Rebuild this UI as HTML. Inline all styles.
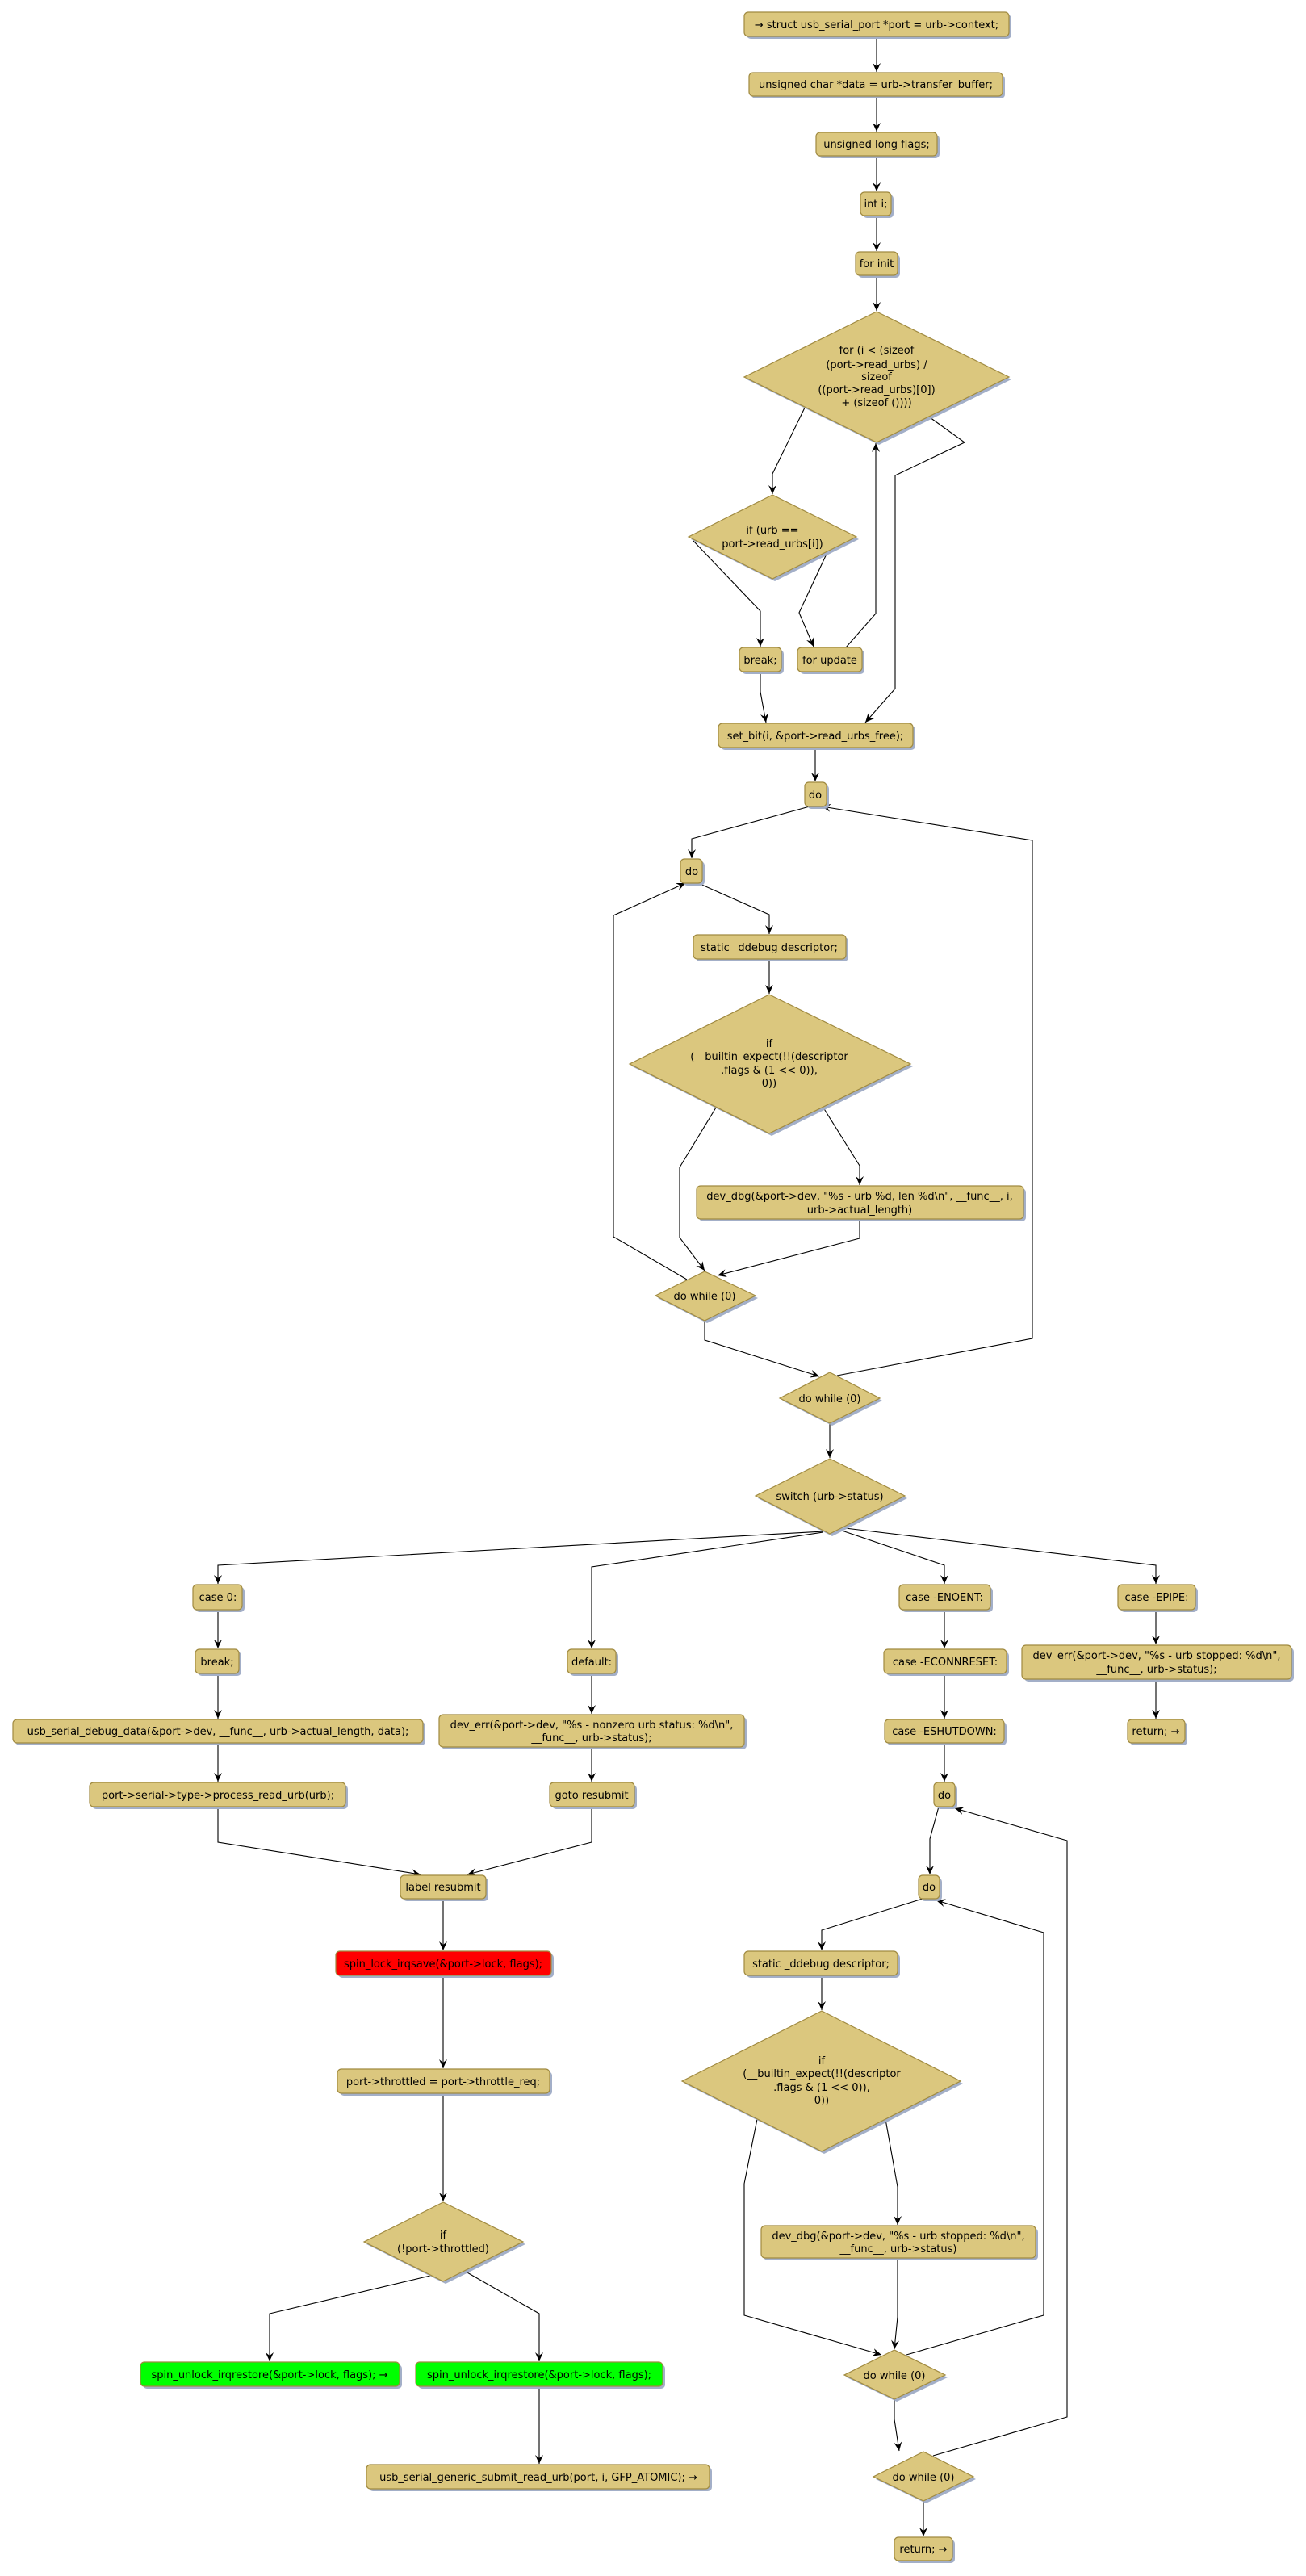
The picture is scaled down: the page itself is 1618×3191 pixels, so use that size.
<!DOCTYPE html>
<html><head><meta charset="utf-8"><style>
html,body{margin:0;padding:0;background:#fff}
svg{display:block}
text{font-family:"DejaVu Sans","Liberation Sans",sans-serif;font-size:13px;fill:#000;text-anchor:middle}
.n{fill:#dbc77e;stroke:#a08a40;stroke-width:1.2}
.s{fill:#a3afc8}
.e{fill:none;stroke:#000;stroke-width:1.1}
</style></head><body>
<svg width="1618" height="3191" viewBox="0 0 1618 3191" xmlns="http://www.w3.org/2000/svg">
<defs>
<marker id="a" markerUnits="userSpaceOnUse" markerWidth="12" markerHeight="12" refX="11" refY="5" orient="auto">
<path d="M0,0 L11,5 L0,10 L4,5 Z" fill="#000"/></marker>
</defs>

<!-- edges -->
<g class="e" marker-end="url(#a)">
<polyline points="1086,45 1086,89"/>
<polyline points="1086,119 1086,163"/>
<polyline points="1086,193 1086,237"/>
<polyline points="1086,267 1086,311"/>
<polyline points="1086,341 1086,385"/>
<polyline points="997,505 957,587 957,612"/>
<polyline points="859,670 942,757 942,801"/>
<polyline points="1025,684 990,759 1008,801"/>
<polyline points="1048,802 1085,760 1085,549"/>
<polyline points="1152,517 1195,548 1109,589 1109,853 1072,895"/>
<polyline points="942,832 942,857 949,895"/>
<polyline points="1010,926 1010,968"/>
<polyline points="1003,999 857,1039 857,1063"/>
<polyline points="865,1094 953,1133 953,1157"/>
<polyline points="953,1188 953,1231"/>
<polyline points="887,1372 842,1446 842,1533 873,1574"/>
<polyline points="1020,1372 1065,1444 1065,1468"/>
<polyline points="1065,1510 1065,1534 889,1580"/>
<polyline points="851,1585 760,1532 760,1134 849,1094"/>
<polyline points="873,1636 873,1660 1015,1705"/>
<polyline points="1037,1704 1279,1658 1279,1041 1018,999"/>
<polyline points="1028,1763 1028,1806"/>
<polyline points="1020,1897 270,1939 270,1962"/>
<polyline points="1020,1898 733,1941 733,2042"/>
<polyline points="1040,1895 1170,1939 1170,1962"/>
<polyline points="1047,1893 1432,1939 1432,1962"/>
<polyline points="270,1994 270,2042"/>
<polyline points="270,2073 270,2129"/>
<polyline points="270,2159 270,2207"/>
<polyline points="733,2073 733,2123"/>
<polyline points="733,2164 733,2207"/>
<polyline points="1170,1994 1170,2042"/>
<polyline points="1170,2073 1170,2129"/>
<polyline points="1170,2159 1170,2207"/>
<polyline points="1432,1994 1432,2037"/>
<polyline points="1432,2080 1432,2129"/>
<polyline points="270,2238 270,2282 521,2322"/>
<polyline points="733,2238 733,2282 579,2322"/>
<polyline points="549,2352 549,2416"/>
<polyline points="549,2447 549,2562"/>
<polyline points="549,2593 549,2727"/>
<polyline points="533,2819 334,2866 334,2925"/>
<polyline points="577,2814 668,2866 668,2925"/>
<polyline points="668,2956 668,3052"/>
<polyline points="1163,2238 1152,2278 1152,2322"/>
<polyline points="1143,2352 1018,2391 1018,2416"/>
<polyline points="1018,2447 1018,2490"/>
<polyline points="938,2625 922,2705 922,2868 1092,2917"/>
<polyline points="1097,2625 1112,2709 1112,2756"/>
<polyline points="1112,2797 1112,2870 1108,2910"/>
<polyline points="1123,2917 1293,2868 1293,2394 1160,2354"/>
<polyline points="1108,2972 1108,2997 1114,3036"/>
<polyline points="1156,3042 1322,2994 1322,2280 1183,2240"/>
<polyline points="1144,3098 1144,3142"/>
</g>

<!-- rect nodes -->
<g>
<rect class="s" x="925" y="18" width="328" height="30" rx="5"/><rect class="n" x="922" y="15" width="328" height="30" rx="5"/>
<text x="1086" y="35">→ struct usb_serial_port *port = urb-&gt;context;</text>
<rect class="s" x="931" y="93" width="314" height="29" rx="5"/><rect class="n" x="928" y="90" width="314" height="29" rx="5"/>
<text x="1085" y="109">unsigned char *data = urb-&gt;transfer_buffer;</text>
<rect class="s" x="1014" y="167" width="150" height="29" rx="5"/><rect class="n" x="1011" y="164" width="150" height="29" rx="5"/>
<text x="1086" y="183">unsigned long flags;</text>
<rect class="s" x="1069" y="241" width="38" height="29" rx="5"/><rect class="n" x="1066" y="238" width="38" height="29" rx="5"/>
<text x="1085" y="257">int i;</text>
<rect class="s" x="1063" y="315" width="52" height="29" rx="5"/><rect class="n" x="1060" y="312" width="52" height="29" rx="5"/>
<text x="1086" y="331">for init</text>
<rect class="s" x="919" y="805" width="52" height="30" rx="5"/><rect class="n" x="916" y="802" width="52" height="30" rx="5"/>
<text x="942" y="822">break;</text>
<rect class="s" x="991" y="805" width="80" height="30" rx="5"/><rect class="n" x="988" y="802" width="80" height="30" rx="5"/>
<text x="1028" y="822">for update</text>
<rect class="s" x="893" y="899" width="241" height="30" rx="5"/><rect class="n" x="890" y="896" width="241" height="30" rx="5"/>
<text x="1010" y="916">set_bit(i, &amp;port-&gt;read_urbs_free);</text>
<rect class="s" x="1000" y="972" width="27" height="30" rx="5"/><rect class="n" x="997" y="969" width="27" height="30" rx="5"/>
<text x="1010" y="989">do</text>
<rect class="s" x="846" y="1067" width="27" height="30" rx="5"/><rect class="n" x="843" y="1064" width="27" height="30" rx="5"/>
<text x="857" y="1084">do</text>
<rect class="s" x="862" y="1161" width="189" height="30" rx="5"/><rect class="n" x="859" y="1158" width="189" height="30" rx="5"/>
<text x="953" y="1178">static _ddebug descriptor;</text>
<rect class="s" x="866" y="1472" width="405" height="41" rx="5"/><rect class="n" x="863" y="1469" width="405" height="41" rx="5"/>
<text x="1065" y="1486">dev_dbg(&amp;port-&gt;dev, "%s - urb %d, len %d\n", __func__, i,</text>
<text x="1065" y="1503">urb-&gt;actual_length)</text>

<rect class="s" x="242" y="1966" width="61" height="31" rx="5"/><rect class="n" x="239" y="1963" width="61" height="31" rx="5"/>
<text x="270" y="1983">case 0:</text>
<rect class="s" x="1117" y="1966" width="113" height="31" rx="5"/><rect class="n" x="1114" y="1963" width="113" height="31" rx="5"/>
<text x="1170" y="1983">case -ENOENT:</text>
<rect class="s" x="1388" y="1966" width="96" height="31" rx="5"/><rect class="n" x="1385" y="1963" width="96" height="31" rx="5"/>
<text x="1433" y="1983">case -EPIPE:</text>
<rect class="s" x="245" y="2046" width="54" height="30" rx="5"/><rect class="n" x="242" y="2043" width="54" height="30" rx="5"/>
<text x="269" y="2063">break;</text>
<rect class="s" x="706" y="2046" width="60" height="30" rx="5"/><rect class="n" x="703" y="2043" width="60" height="30" rx="5"/>
<text x="733" y="2063">default:</text>
<rect class="s" x="1098" y="2046" width="152" height="30" rx="5"/><rect class="n" x="1095" y="2043" width="152" height="30" rx="5"/>
<text x="1171" y="2063">case -ECONNRESET:</text>
<rect class="s" x="1269" y="2041" width="334" height="42" rx="5"/><rect class="n" x="1266" y="2038" width="334" height="42" rx="5"/>
<text x="1433" y="2055">dev_err(&amp;port-&gt;dev, "%s - urb stopped: %d\n",</text>
<text x="1433" y="2072">__func__, urb-&gt;status);</text>
<rect class="s" x="19" y="2133" width="508" height="29" rx="5"/><rect class="n" x="16" y="2130" width="508" height="29" rx="5"/>
<text x="270" y="2149">usb_serial_debug_data(&amp;port-&gt;dev, __func__, urb-&gt;actual_length, data);</text>
<rect class="s" x="547" y="2127" width="378" height="40" rx="5"/><rect class="n" x="544" y="2124" width="378" height="40" rx="5"/>
<text x="733" y="2141">dev_err(&amp;port-&gt;dev, "%s - nonzero urb status: %d\n",</text>
<text x="733" y="2157">__func__, urb-&gt;status);</text>
<rect class="s" x="1099" y="2133" width="148" height="29" rx="5"/><rect class="n" x="1096" y="2130" width="148" height="29" rx="5"/>
<text x="1170" y="2149">case -ESHUTDOWN:</text>
<rect class="s" x="1400" y="2133" width="71" height="29" rx="5"/><rect class="n" x="1397" y="2130" width="71" height="29" rx="5"/>
<text x="1432" y="2149">return; →</text>
<rect class="s" x="114" y="2211" width="317" height="30" rx="5"/><rect class="n" x="111" y="2208" width="317" height="30" rx="5"/>
<text x="270" y="2228">port-&gt;serial-&gt;type-&gt;process_read_urb(urb);</text>
<rect class="s" x="684" y="2211" width="105" height="30" rx="5"/><rect class="n" x="681" y="2208" width="105" height="30" rx="5"/>
<text x="733" y="2228">goto resubmit</text>
<rect class="s" x="1160" y="2211" width="26" height="30" rx="5"/><rect class="n" x="1157" y="2208" width="26" height="30" rx="5"/>
<text x="1170" y="2228">do</text>
<rect class="s" x="499" y="2326" width="106" height="29" rx="5"/><rect class="n" x="496" y="2323" width="106" height="29" rx="5"/>
<text x="549" y="2342">label resubmit</text>
<rect class="s" x="1141" y="2326" width="26" height="29" rx="5"/><rect class="n" x="1138" y="2323" width="26" height="29" rx="5"/>
<text x="1151" y="2342">do</text>
<rect class="s" x="419" y="2420" width="267" height="30" rx="5"/><rect class="n" style="fill:#ff0000" x="416" y="2417" width="267" height="30" rx="5"/>
<text x="549" y="2437">spin_lock_irqsave(&amp;port-&gt;lock, flags);</text>
<rect class="s" x="925" y="2420" width="190" height="30" rx="5"/><rect class="n" x="922" y="2417" width="190" height="30" rx="5"/>
<text x="1017" y="2437">static _ddebug descriptor;</text>
<rect class="s" x="421" y="2566" width="263" height="30" rx="5"/><rect class="n" x="418" y="2563" width="263" height="30" rx="5"/>
<text x="549" y="2583">port-&gt;throttled = port-&gt;throttle_req;</text>
<rect class="s" x="946" y="2760" width="340" height="40" rx="5"/><rect class="n" x="943" y="2757" width="340" height="40" rx="5"/>
<text x="1113" y="2774">dev_dbg(&amp;port-&gt;dev, "%s - urb stopped: %d\n",</text>
<text x="1113" y="2790">__func__, urb-&gt;status)</text>
<rect class="s" x="177" y="2929" width="321" height="30" rx="5"/><rect class="n" style="fill:#00ff00" x="174" y="2926" width="321" height="30" rx="5"/>
<text x="334" y="2946">spin_unlock_irqrestore(&amp;port-&gt;lock, flags); →</text>
<rect class="s" x="518" y="2929" width="306" height="30" rx="5"/><rect class="n" style="fill:#00ff00" x="515" y="2926" width="306" height="30" rx="5"/>
<text x="668" y="2946">spin_unlock_irqrestore(&amp;port-&gt;lock, flags);</text>
<rect class="s" x="457" y="3056" width="425" height="30" rx="5"/><rect class="n" x="454" y="3053" width="425" height="30" rx="5"/>
<text x="667" y="3073">usb_serial_generic_submit_read_urb(port, i, GFP_ATOMIC); →</text>
<rect class="s" x="1111" y="3146" width="72" height="29" rx="5"/><rect class="n" x="1108" y="3143" width="72" height="29" rx="5"/>
<text x="1144" y="3162">return; →</text>
</g>

<!-- diamonds -->
<g>
<polygon class="s" points="1089,389 1253,470 1089,551 925,470"/><polygon class="n" points="1086,386 1250,467 1086,548 922,467"/>
<text x="1086" y="438">for (i &lt; (sizeof</text>
<text x="1086" y="456">(port-&gt;read_urbs) /</text>
<text x="1086" y="471">sizeof</text>
<text x="1086" y="487">((port-&gt;read_urbs)[0])</text>
<text x="1086" y="503">+ (sizeof ())))</text>

<polygon class="s" points="960,616 1064,668 960,720 856,668"/><polygon class="n" points="957,613 1061,665 957,717 853,665"/>
<text x="957" y="661">if (urb ==</text>
<text x="957" y="678">port-&gt;read_urbs[i])</text>

<polygon class="s" points="956,1235 1131,1321 956,1407 783,1321"/><polygon class="n" points="953,1232 1128,1318 953,1404 780,1318"/>
<text x="953" y="1297">if</text>
<text x="953" y="1313">(__builtin_expect(!!(descriptor</text>
<text x="953" y="1330">.flags &amp; (1 &lt;&lt; 0)),</text>
<text x="953" y="1346">0))</text>

<polygon class="s" points="876,1578 939,1608 876,1639 815,1608"/><polygon class="n" points="873,1575 936,1605 873,1636 812,1605"/>
<text x="873" y="1610">do while (0)</text>

<polygon class="s" points="1031,1703 1093,1735 1031,1766 969,1735"/><polygon class="n" points="1028,1700 1090,1732 1028,1763 966,1732"/>
<text x="1028" y="1737">do while (0)</text>

<polygon class="s" points="1031,1810 1124,1856 1031,1903 939,1856"/><polygon class="n" points="1028,1807 1121,1853 1028,1900 936,1853"/>
<text x="1028" y="1858">switch (urb-&gt;status)</text>

<polygon class="s" points="552,2731 651,2780 552,2829 454,2780"/><polygon class="n" points="549,2728 648,2777 549,2826 451,2777"/>
<text x="549" y="2773">if</text>
<text x="549" y="2790">(!port-&gt;throttled)</text>

<polygon class="s" points="1021,2494 1193,2581 1021,2668 848,2581"/><polygon class="n" points="1018,2491 1190,2578 1018,2665 845,2578"/>
<text x="1018" y="2557">if</text>
<text x="1018" y="2573">(__builtin_expect(!!(descriptor</text>
<text x="1018" y="2590">.flags &amp; (1 &lt;&lt; 0)),</text>
<text x="1018" y="2606">0))</text>

<polygon class="s" points="1111,2914 1174,2945 1111,2975 1049,2945"/><polygon class="n" points="1108,2911 1171,2942 1108,2972 1046,2942"/>
<text x="1108" y="2947">do while (0)</text>

<polygon class="s" points="1147,3040 1209,3071 1147,3101 1085,3071"/><polygon class="n" points="1144,3037 1206,3068 1144,3098 1082,3068"/>
<text x="1144" y="3073">do while (0)</text>
</g>
</svg>
</body></html>
